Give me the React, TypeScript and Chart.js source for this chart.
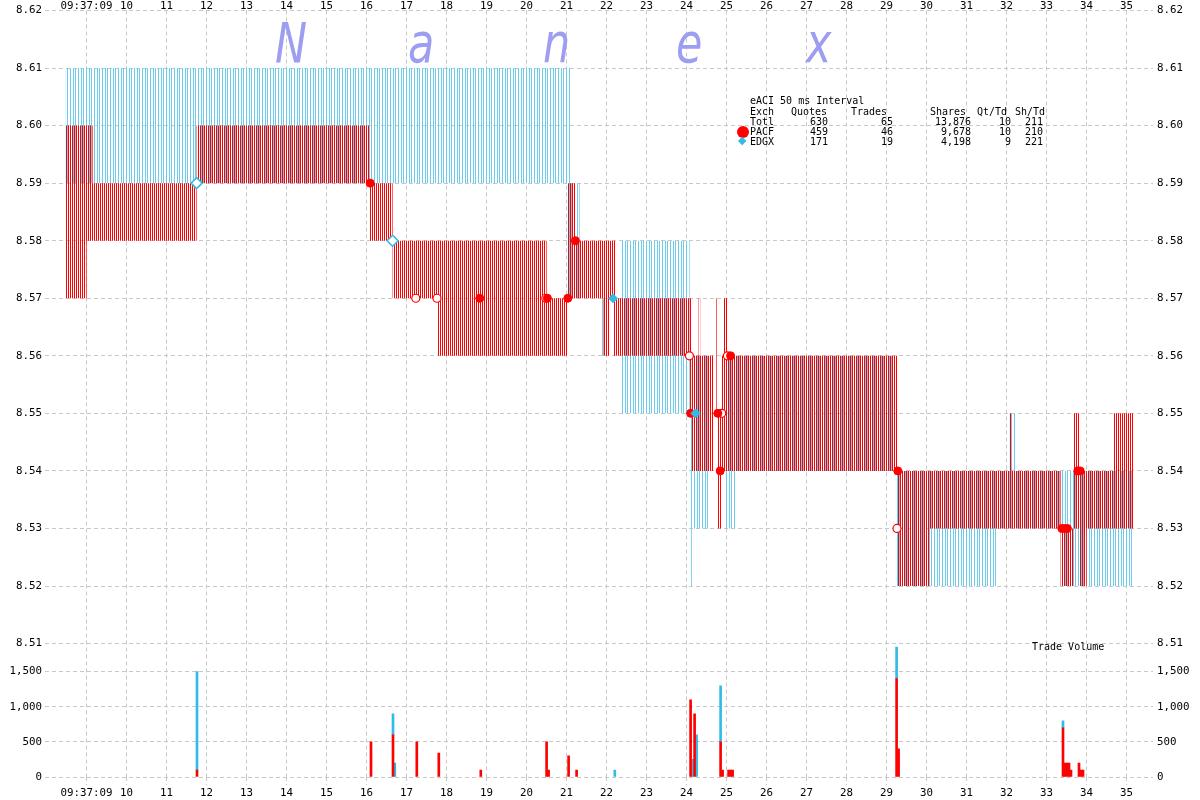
import React, { useEffect, useRef } from "react";
import { Chart, registerables } from "chart.js";

Chart.register(...registerables);

// ---- axes (time in seconds after 09:37:00) ----
const timeTicks = [9, 10, 11, 12, 13, 14, 15, 16, 17, 18, 19, 20, 21, 22, 23, 24, 25, 26, 27, 28, 29, 30, 31, 32, 33, 34, 35];
const timeLabels = ["09:37:09", "10", "11", "12", "13", "14", "15", "16", "17", "18", "19", "20", "21", "22", "23", "24", "25", "26", "27", "28", "29", "30", "31", "32", "33", "34", "35"];
const priceTicks = [8.51, 8.52, 8.53, 8.54, 8.55, 8.56, 8.57, 8.58, 8.59, 8.6, 8.61, 8.62];
const priceLabels = ["8.51", "8.52", "8.53", "8.54", "8.55", "8.56", "8.57", "8.58", "8.59", "8.60", "8.61", "8.62"];
const volumeTicks = [0, 500, 1000, 1500];
const volumeLabels = ["0", "500", "1,000", "1,500"];

// ---- PACF quotes (bid/ask step segments) ----
const pacfQuoteStart = [8.475, 9.0, 9.15, 11.75, 16.08, 16.65, 17.775, 20.5, 21.03, 21.21, 21.9, 22.06, 22.165, 22.21, 24.06, 24.13, 24.3, 24.34, 24.74, 24.78, 24.88, 24.93, 25.03, 29.26, 30.06, 32.08, 32.12, 33.35, 33.66, 33.81, 34.0, 34.68];
const pacfQuoteEnd = [9.0, 9.15, 11.75, 16.08, 16.65, 17.775, 20.5, 21.03, 21.21, 21.9, 22.06, 22.165, 22.21, 24.06, 24.13, 24.3, 24.34, 24.66, 24.77, 24.88, 24.93, 25.03, 29.26, 30.06, 32.08, 32.12, 33.35, 33.66, 33.81, 34.0, 34.68, 35.16];
const pacfBid = [8.57, 8.58, 8.58, 8.59, 8.58, 8.57, 8.56, 8.56, 8.57, 8.57, 8.56, 8.57, 8.56, 8.56, 8.55, 8.54, 8.54, 8.54, 8.55, 8.53, 8.54, 8.54, 8.54, 8.52, 8.53, 8.53, 8.53, 8.52, 8.53, 8.52, 8.53, 8.53];
const pacfAsk = [8.6, 8.6, 8.59, 8.6, 8.59, 8.58, 8.58, 8.57, 8.59, 8.58, 8.58, 8.58, 8.58, 8.57, 8.57, 8.56, 8.57, 8.56, 8.57, 8.55, 8.56, 8.57, 8.56, 8.54, 8.54, 8.55, 8.54, 8.53, 8.55, 8.54, 8.54, 8.55];

// ---- EDGX quotes ----
const edgxQuoteStart = [8.475, 21.03, 21.1, 21.9, 22.36, 24.1, 24.13, 24.94, 25.23, 29.26, 31.76, 32.08, 32.21, 33.35];
const edgxQuoteEnd = [21.03, 21.1, 21.33, 22.0, 24.08, 24.13, 24.58, 25.23, 29.26, 31.76, 32.08, 32.21, 33.35, 35.16];
const edgxBid = [8.59, 8.57, 8.57, 8.56, 8.55, 8.52, 8.53, 8.53, 8.54, 8.52, 8.53, 8.53, 8.53, 8.52];
const edgxAsk = [8.61, 8.61, 8.59, 8.57, 8.58, 8.55, 8.56, 8.56, 8.56, 8.54, 8.54, 8.55, 8.54, 8.54];

// ---- trades (price markers) ----
const pacfTradeTime = [16.09, 18.83, 20.52, 21.03, 21.22, 24.1, 24.78, 24.84, 25.1, 29.28, 33.38, 33.45, 33.52, 33.78, 33.84];
const pacfTradePrice = [8.59, 8.57, 8.57, 8.57, 8.58, 8.55, 8.55, 8.54, 8.56, 8.54, 8.53, 8.53, 8.53, 8.54, 8.54];
const pacfOpenTradeTime = [16.65, 17.23, 17.76, 20.48, 24.07, 24.88, 25.02, 29.26];
const pacfOpenTradePrice = [8.58, 8.57, 8.57, 8.57, 8.56, 8.55, 8.56, 8.53];
const edgxTradeTime = [22.16, 24.22];
const edgxTradePrice = [8.57, 8.55];
const edgxOpenTradeTime = [11.75, 16.65];
const edgxOpenTradePrice = [8.59, 8.58];

// ---- trade volume ----
const pacfVolTime = [11.76, 16.11, 16.66, 17.255, 17.805, 18.855, 20.5, 20.55, 21.05, 21.25, 24.1, 24.2, 24.85, 24.9, 25.05, 25.1, 25.15, 29.25, 29.3, 33.41, 33.46, 33.51, 33.56, 33.61, 33.81, 33.86, 33.91];
const pacfVolShares = [100, 500, 600, 500, 340, 100, 500, 100, 300, 100, 1100, 900, 500, 100, 100, 100, 100, 1400, 400, 700, 200, 200, 200, 100, 200, 100, 100];
const edgxVolTime = [11.76, 16.66, 16.705, 22.205, 24.15, 24.25, 24.85, 29.25, 33.41];
const edgxVolShares = [1400, 300, 200, 100, 250, 600, 800, 450, 100];

// ---- legend table ----
const legendTitle = "eACI 50 ms Interval";
const legendHeaders = ["Exch", "Quotes", "Trades", "Shares", "Qt/Td", "Sh/Td"];
const legendExch = ["Totl", "PACF", "EDGX"];
const legendQuotes = ["630", "459", "171"];
const legendTrades = ["65", "46", "19"];
const legendShares = ["13,876", "9,678", "4,198"];
const legendQtTd = ["10", "10", "9"];
const legendShTd = ["211", "210", "221"];

const X_MIN = 7.96;
const X_MAX = 35.66;
const RED = "#ff0000";
const CYAN_MARK = "#33bbe6";
const CYAN_STRIPE = "#6ccbea";
const GRID = "#c8c8c8";
const DASH = [4, 3];
const MONO = "'DejaVu Sans Mono', monospace";

const toPoints = (xs: number[], ys: number[]) => xs.map((x, i) => ({ x, y: ys[i] }));

function stepSeries(starts: number[], ends: number[], vals: number[]) {
  const pts: { x: number; y: number | null }[] = [];
  for (let i = 0; i < starts.length; i++) {
    pts.push({ x: starts[i], y: vals[i] });
    const contiguous = i + 1 < starts.length && starts[i + 1] === ends[i];
    if (!contiguous) {
      pts.push({ x: ends[i], y: vals[i] });
      pts.push({ x: ends[i], y: null });
    }
  }
  return pts;
}

function stripe(color: string, width: number, on: number[]) {
  const c = document.createElement("canvas");
  c.width = width;
  c.height = 1;
  const g = c.getContext("2d")!;
  g.fillStyle = color;
  on.forEach((px) => g.fillRect(px, 0, 1, 1));
  return g.createPattern(c, "repeat")!;
}

export default function App() {
  const ref = useRef<HTMLCanvasElement>(null);

  useEffect(() => {
    const canvas = ref.current!;
    const redPattern = stripe(RED, 2, [0]);
    const cyanPattern = stripe(CYAN_STRIPE, 8, [1, 3, 6]);
    const tickFont = { family: MONO, size: 10.8 };

    const timeAxis = (position: string, height: number, padding: number, showGrid: boolean) => ({
      type: "linear",
      position,
      min: X_MIN,
      max: X_MAX,
      offset: false,
      afterBuildTicks: (s: any) => {
        s.ticks = timeTicks.map((v) => ({ value: v }));
      },
      afterFit: (s: any) => {
        s.height = height;
      },
      grid: showGrid
        ? { display: true, color: GRID, offset: false, drawTicks: true, tickLength: 8, tickColor: GRID, tickBorderDash: DASH }
        : { display: false, drawTicks: false, offset: false },
      border: { display: false, dash: DASH },
      ticks: {
        autoSkip: false,
        maxRotation: 0,
        minRotation: 0,
        padding,
        color: "#000",
        font: tickFont,
        callback: (_v: any, i: number) => timeLabels[i],
      },
    });

    const valueAxis = (
      position: string,
      stack: string,
      weight: number,
      stackWeight: number,
      min: number,
      max: number,
      ticks: number[],
      labels: string[],
      showGrid: boolean,
      width: number,
      padding: number,
      stacked: boolean
    ) => ({
      type: "linear",
      position,
      stack,
      weight,
      stackWeight,
      min,
      max,
      stacked,
      afterBuildTicks: (s: any) => {
        s.ticks = ticks.map((v) => ({ value: v }));
      },
      afterFit: (s: any) => {
        s.width = width;
      },
      grid: showGrid ? { display: true, color: GRID, drawTicks: false } : { display: false, drawTicks: false },
      border: { display: false, dash: DASH },
      ticks: {
        autoSkip: false,
        padding,
        color: "#000",
        font: tickFont,
        callback: (_v: any, i: number) => labels[i],
      },
    });

    const chart = new Chart(canvas, {
      type: "line",
      data: {
        datasets: [
          {
            type: "scatter",
            label: "EDGX trades",
            data: toPoints(edgxTradeTime, edgxTradePrice),
            xAxisID: "x",
            yAxisID: "yP",
            pointStyle: "rectRot",
            pointRadius: 4.5,
            pointBackgroundColor: CYAN_MARK,
            pointBorderColor: CYAN_MARK,
            pointBorderWidth: 1,
            order: 1,
          },
          {
            type: "scatter",
            label: "EDGX trades (open)",
            data: toPoints(edgxOpenTradeTime, edgxOpenTradePrice),
            xAxisID: "x",
            yAxisID: "yP",
            pointStyle: "rectRot",
            pointRadius: 5.5,
            pointBackgroundColor: "#ffffff",
            pointBorderColor: CYAN_MARK,
            pointBorderWidth: 1.5,
            order: 1,
          },
          {
            type: "scatter",
            label: "PACF trades",
            data: toPoints(pacfTradeTime, pacfTradePrice),
            xAxisID: "x",
            yAxisID: "yP",
            pointStyle: "circle",
            pointRadius: 4,
            pointBackgroundColor: RED,
            pointBorderColor: RED,
            pointBorderWidth: 1,
            order: 2,
          },
          {
            type: "scatter",
            label: "PACF trades (open)",
            data: toPoints(pacfOpenTradeTime, pacfOpenTradePrice),
            xAxisID: "x",
            yAxisID: "yP",
            pointStyle: "circle",
            pointRadius: 4,
            pointBackgroundColor: "#ffffff",
            pointBorderColor: RED,
            pointBorderWidth: 1.2,
            order: 2,
          },
          {
            type: "bar",
            label: "PACF volume",
            data: toPoints(pacfVolTime, pacfVolShares),
            xAxisID: "x",
            yAxisID: "yV",
            backgroundColor: RED,
            borderWidth: 0,
            barThickness: 2,
            grouped: false,
            order: 5,
          },
          {
            type: "bar",
            label: "EDGX volume",
            data: toPoints(edgxVolTime, edgxVolShares),
            xAxisID: "x",
            yAxisID: "yV",
            backgroundColor: CYAN_MARK,
            borderWidth: 0,
            barThickness: 2,
            grouped: false,
            order: 5,
          },
          {
            type: "line",
            label: "PACF ask",
            data: stepSeries(pacfQuoteStart, pacfQuoteEnd, pacfAsk),
            xAxisID: "x",
            yAxisID: "yP",
            stepped: "before",
            borderWidth: 0,
            pointRadius: 0,
            fill: false,
            order: 10,
          },
          {
            type: "line",
            label: "PACF bid",
            data: stepSeries(pacfQuoteStart, pacfQuoteEnd, pacfBid),
            xAxisID: "x",
            yAxisID: "yP",
            stepped: "before",
            borderWidth: 0,
            pointRadius: 0,
            fill: "-1",
            backgroundColor: redPattern,
            order: 10,
          },
          {
            type: "line",
            label: "EDGX ask",
            data: stepSeries(edgxQuoteStart, edgxQuoteEnd, edgxAsk),
            xAxisID: "x",
            yAxisID: "yP",
            stepped: "before",
            borderWidth: 0,
            pointRadius: 0,
            fill: false,
            order: 20,
          },
          {
            type: "line",
            label: "EDGX bid",
            data: stepSeries(edgxQuoteStart, edgxQuoteEnd, edgxBid),
            xAxisID: "x",
            yAxisID: "yP",
            stepped: "before",
            borderWidth: 0,
            pointRadius: 0,
            fill: "-1",
            backgroundColor: cyanPattern,
            order: 20,
          },
        ] as any,
      },
      options: {
        responsive: false,
        maintainAspectRatio: false,
        animation: false,
        events: [],
        layout: { padding: 0 },
        plugins: { legend: { display: false }, tooltip: { enabled: false }, title: { display: false } },
        scales: {
          x: timeAxis("bottom", 23, 2, true),
          xTop: timeAxis("top", 10, -2, false),
          yP: valueAxis("left", "L", 2, 633.5, 8.51, 8.62, priceTicks, priceLabels, true, 45, 3, false),
          yV: valueAxis("left", "L", 1, 133.5, 0, 1900, volumeTicks, volumeLabels, true, 45, 3, true),
          yPR: valueAxis("right", "R", 1, 633.5, 8.51, 8.62, priceTicks, priceLabels, false, 47, 4, false),
          yVR: valueAxis("right", "R", 2, 133.5, 0, 1900, volumeTicks, volumeLabels, false, 47, 4, false),
        } as any,
      },
    });
    return () => chart.destroy();
  }, []);

  const legendLeft = [750, 791, 851, 930, 977, 1015];
  const valueRight = [828, 893, 971, 1011, 1043];
  const rowTop = [117, 127, 137];
  const cols = [legendQuotes, legendTrades, legendShares, legendQtTd, legendShTd];
  const text: React.CSSProperties = {
    position: "absolute",
    fontFamily: MONO,
    fontSize: 10,
    lineHeight: "10px",
    color: "#000",
    whiteSpace: "pre",
  };
  const watermark = [
    { ch: "N", x: 275 },
    { ch: "a", x: 408 },
    { ch: "n", x: 543 },
    { ch: "e", x: 676 },
    { ch: "x", x: 806 },
  ];

  return (
    <div style={{ position: "fixed", left: 0, top: 0, width: 1200, height: 800, background: "#ffffff", overflow: "hidden" }}>
      <canvas ref={ref} width={1200} height={800} style={{ position: "absolute", left: 0, top: 0 }} />
      {watermark.map((w) => (
        <span
          key={w.x}
          style={{
            position: "absolute",
            left: w.x,
            top: 15.5,
            fontFamily: "'DejaVu Sans', sans-serif",
            fontStyle: "italic",
            fontWeight: 200,
            fontSize: 55,
            lineHeight: "55px",
            color: "#9d9df2",
            transform: "scaleX(0.78)",
            transformOrigin: "left top",
            pointerEvents: "none",
          }}
        >
          {w.ch}
        </span>
      ))}
      <div style={{ ...text, left: 750, top: 96 }}>{legendTitle}</div>
      {legendHeaders.map((h, i) => (
        <div key={h} style={{ ...text, left: legendLeft[i], top: 107 }}>
          {h}
        </div>
      ))}
      {legendExch.map((e, r) => (
        <div key={e} style={{ ...text, left: 750, top: rowTop[r] }}>
          {e}
        </div>
      ))}
      {cols.map((col, c) =>
        col.map((v, r) => (
          <div key={c + "-" + r} style={{ ...text, left: valueRight[c] - 200, width: 200, textAlign: "right", top: rowTop[r] }}>
            {v}
          </div>
        ))
      )}
      <div
        style={{ position: "absolute", left: 737, top: 126, width: 12, height: 12, borderRadius: 6, background: RED }}
      />
      <div
        style={{
          position: "absolute",
          left: 739.3,
          top: 138.3,
          width: 6.4,
          height: 6.4,
          background: CYAN_MARK,
          transform: "rotate(45deg)",
        }}
      />
      <div style={{ ...text, left: 1032, top: 642 }}>Trade Volume</div>
    </div>
  );
}
